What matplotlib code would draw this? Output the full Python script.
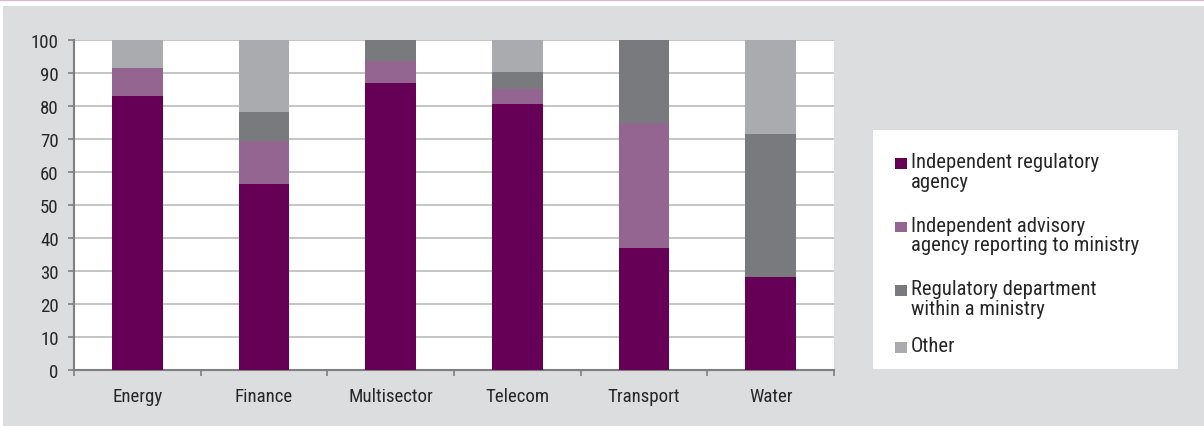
import matplotlib
matplotlib.use("Agg")
import matplotlib.pyplot as plt
from matplotlib.patches import Rectangle
from matplotlib import font_manager as fm
import numpy as np

categories = ['Energy', 'Finance', 'Multisector', 'Telecom', 'Transport', 'Water']
independent = [83.1, 56.3, 87.1, 80.6, 36.9, 28.2]
advisory = [8.4, 13.2, 6.5, 4.7, 37.9, 0.0]
department = [0.0, 8.8, 6.4, 5.0, 25.2, 43.3]
other = [8.5, 21.7, 0.0, 9.7, 0.0, 28.5]

series_labels = ['Independent regulatory\nagency',
                 'Independent advisory\nagency reporting to ministry',
                 'Regulatory department\nwithin a ministry',
                 'Other']
series_colors = ['#660057', '#946591', '#797A7E', '#AAABAF']
yticks = [0, 10, 20, 30, 40, 50, 60, 70, 80, 90, 100]

# ---- choose a condensed font if one exists ----
avail = [(f.name, f.stretch) for f in fm.fontManager.ttflist]
names = {n for n, _ in avail}
family, stretch = 'Liberation Sans', 'normal'
if 'Liberation Sans Narrow' in names:
    family, stretch = 'Liberation Sans Narrow', 'normal'
elif 'Roboto Condensed' in names:
    family, stretch = 'Roboto Condensed', 'normal'
elif ('DejaVu Sans', 'condensed') in avail or ('DejaVu Sans', 'semi-condensed') in avail:
    family, stretch = 'DejaVu Sans', 'condensed'
elif 'Liberation Sans' not in names:
    family = 'DejaVu Sans'
plt.rcParams['font.family'] = [family, 'DejaVu Sans']
plt.rcParams['font.stretch'] = stretch

W, H = 1204, 427
fig = plt.figure(figsize=(W / 100, H / 100), dpi=100)
fig.patch.set_facecolor('white')
renderer = fig.canvas.get_renderer()


def size_for(text, target_px):
    t = fig.text(0, 0, text, fontsize=10)
    w = t.get_window_extent(renderer).width
    t.remove()
    return 10 * target_px / w


tick_fs = min(size_for('Multisector', 84), 14)
leg_fs = min(size_for('Independent regulatory', 187), 16)

# grey panel and top rule
fig.add_artist(Rectangle((3 / W, 0), 1 - 3 / W, (H - 7) / H, transform=fig.transFigure,
                         facecolor='#DCDDDF', edgecolor='none', zorder=0))
fig.add_artist(plt.Line2D([0, 1], [1 - 0.8 / H, 1 - 0.8 / H], transform=fig.transFigure,
                          color='#D8B6D4', lw=1.6, zorder=1))

ax = fig.add_axes([74 / W, 1 - 371 / H, (834 - 74) / W, (371 - 41) / H])
ax.set_facecolor('white')
ax.set_zorder(2)

x = np.arange(len(categories))
data = [independent, advisory, department, other]
bottom = np.zeros(len(categories))
for vals, col in zip(data, series_colors):
    ax.bar(x, vals, width=0.4, bottom=bottom, color=col, edgecolor='none', zorder=3)
    bottom = bottom + np.array(vals)

ax.set_xlim(-0.5, len(categories) - 0.5)
ax.set_ylim(0, 100)
ax.set_yticks(yticks)
ax.set_yticklabels([str(v) for v in yticks])
ax.yaxis.grid(True, color='#B5B5B5', lw=1.1, zorder=1)
ax.set_axisbelow(True)

ax.set_xticks(x)
ax.set_xticklabels(categories)
ax.set_xticks(np.arange(len(categories) + 1) - 0.5, minor=True)
ax.tick_params(axis='x', which='major', length=0, pad=12, labelsize=tick_fs, labelcolor='#262626')
ax.tick_params(axis='x', which='minor', length=4, width=1.2, color='#7F7F7F', direction='out')
ax.tick_params(axis='y', length=4, width=1.2, color='#7F7F7F', pad=7, labelsize=tick_fs,
               labelcolor='#262626')

for s in ['top', 'right']:
    ax.spines[s].set_visible(False)
for s in ['left', 'bottom']:
    ax.spines[s].set_color('#7F7F7F')
    ax.spines[s].set_linewidth(1.5)

# legend box
fig.add_artist(Rectangle((873 / W, 1 - 370 / H), 305 / W, 239 / H, transform=fig.transFigure,
                         facecolor='white', edgecolor='none', zorder=2))
baselines = [168, 231.5, 295, 352]
for lab, col, yb in zip(series_labels, series_colors, baselines):
    fig.add_artist(Rectangle((895 / W, 1 - (yb + 1.5) / H), 11.5 / W, 10.5 / H,
                             transform=fig.transFigure, facecolor=col, edgecolor='none',
                             zorder=3))
    for k, line in enumerate(lab.split('\n')):
        fig.text(911 / W, 1 - (yb + 20 * k) / H, line, fontsize=leg_fs, color='#262626',
                 va='baseline', ha='left', zorder=4)

fig.savefig('out.png', dpi=100, facecolor=fig.get_facecolor())
